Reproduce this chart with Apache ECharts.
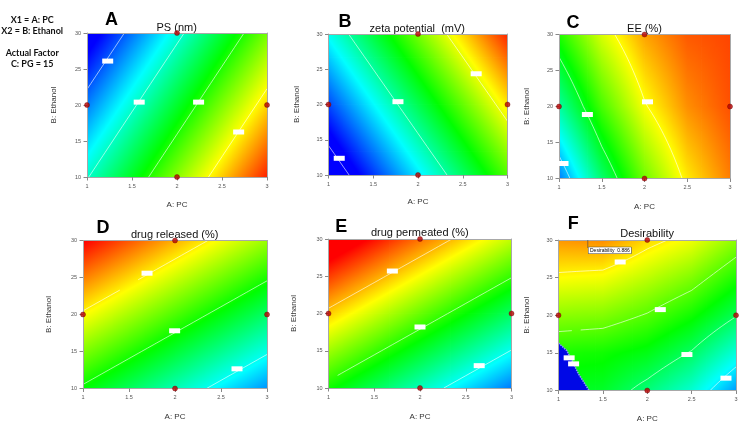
<!DOCTYPE html>
<html><head><meta charset="utf-8">
<script src="https://cdn.jsdelivr.net/npm/echarts@6/dist/echarts.min.js"></script>
<style>html,body{margin:0;padding:0;background:#fff}#c{width:753px;height:424px}</style>
</head><body><div id="c"></div>
<script>
// ================= DATA =================
const pcTicks = [1, 1.5, 2, 2.5, 3];          // A: PC
const ethanolTicks = [10, 15, 20, 25, 30];    // B: Ethanol
const designPoints = [[2, 30], [1, 20], [2, 10], [3, 20]];
const factorNotes = ['X1 = A: PC', 'X2 = B: Ethanol', 'Actual Factor', 'C: PG = 15'];

// A: PS (nm) — response grid (rows: Ethanol 10,20,30 ; cols: PC 1,2,3)
const psPC = [1, 2, 3];
const psEth = [10, 20, 30];
const psGrid = [[1.00, 2.00, 3.00], [0.47, 1.47, 2.47], [-0.06, 0.94, 1.94]];
const psLevels = [0.355, 1.02, 1.685, 2.35];
const psRange = [0.1, 3.1];
const psLabelPos = [[1.23, 26.1], [1.58, 20.4], [2.24, 20.4], [2.685, 16.25]];

// B: zeta potential (mV)
const zpPC = [1, 2, 3];
const zpEth = [10, 20, 30];
const zpGrid = [[1.00, 2.00, 3.00], [1.55, 2.55, 3.55], [2.10, 3.10, 4.10]];
const zpLevels = [1.23, 2.324, 3.42];
const zpRange = [1.35, 4.2];
const zpLabelPos = [[1.12, 12.37], [1.776, 20.4], [2.65, 24.36]];

// C: EE (%)
const eePC = [1, 1.5, 2, 2.5, 3];
const eeEth = [10, 20, 30];
const eeGrid = [[0.75, 1.72, 2.49, 3.07, 3.45], [1.54, 2.35, 2.97, 3.39, 3.61], [2.21, 2.86, 3.32, 3.58, 3.65]];
const eeLevels = [1, 2, 3];
const eeRange = [0.32, 3.89];
const eeLabelPos = [[1.047, 12.08], [1.332, 18.89], [2.035, 20.65]];

// D: drug released (%)
const drPC = [1, 2, 3];
const drEth = [10, 20, 30];
const drGrid = [[10, 3, -4], [20, 13, 6], [30, 23, 16]];
const drLevels = [0.6, 10.55, 20.5];
const drRange = [-9.8, 29.8];
const drLabelPos = [[1.696, 25.58], [1.996, 17.8], [2.674, 12.66]];

// E: drug permeated (%)
const dpPC = [1, 2, 3];
const dpEth = [10, 20, 30];
const dpGrid = [[10, 3.1, -3.8], [20, 13.1, 6.2], [30, 23.1, 16.2]];
const dpLevels = [1.3, 11.0, 20.7];
const dpRange = [-8, 27];
const dpLabelPos = [[1.698, 25.7], [2.0, 18.19], [2.647, 13.0]];

// F: Desirability
const dePC = [1, 1.5, 2, 2.5, 3];
const deEth = [10, 15, 20, 25, 30];
const deGrid = [
  [0.48, 0.47, 0.39, 0.30, 0.156],
  [0.535, 0.525, 0.49, 0.413, 0.29],
  [0.65, 0.64, 0.594, 0.526, 0.425],
  [0.766, 0.755, 0.70, 0.638, 0.538],
  [0.87, 0.88, 0.805, 0.75, 0.652]
];
const deLevels = [0.24, 0.42, 0.60, 0.78];
const deRange = [0, 1.02];
const deLabelPos = [[1.695, 27.08], [2.147, 20.75], [2.447, 14.78], [2.887, 11.64], [1.12, 14.34], [1.17, 13.54]];
const deZeroRegion = [[1, 10], [1, 16.3], [1.094, 15.3], [1.15, 14.0], [1.226, 12.2], [1.345, 10]];
const optimumPoint = [1.33, 30];
const optimumValue = 0.886;

// ================= RENDERING =================
const STOPS = [
  {t: 0, c: [0, 0, 255]}, {t: 0.25, c: [0, 255, 255]}, {t: 0.5, c: [0, 255, 0]},
  {t: 0.75, c: [255, 255, 0]}, {t: 1, c: [255, 0, 0]}
];
function colorAt(t) {
  t = Math.max(0, Math.min(1, t));
  for (let k = 1; k < STOPS.length; k++) {
    if (t <= STOPS[k].t) {
      const a = STOPS[k - 1], b = STOPS[k], f = (t - a.t) / (b.t - a.t);
      return 'rgb(' + a.c.map((v, m) => Math.round(v + (b.c[m] - v) * f)).join(',') + ')';
    }
  }
  return 'rgb(255,0,0)';
}

const panels = [
  {letter: 'A', title: 'PS (nm)', pc: psPC, eth: psEth, z: psGrid, levels: psLevels, range: psRange, labels: psLabelPos,
   grid: {left: 87, top: 33, width: 180, height: 144}, yGap: 29, xGap: 24, letterPos: [111.5, 19.7], titlePos: [176.7, 27.5]},
  {letter: 'B', title: 'zeta potential  (mV)', pc: zpPC, eth: zpEth, z: zpGrid, levels: zpLevels, range: zpRange, labels: zpLabelPos,
   grid: {left: 328.5, top: 34, width: 179, height: 141}, yGap: 27.5, xGap: 23, letterPos: [345, 21.7], titlePos: [417.3, 28.5]},
  {letter: 'C', title: 'EE (%)', pc: eePC, eth: eeEth, z: eeGrid, levels: eeLevels, range: eeRange, labels: eeLabelPos,
   grid: {left: 559, top: 34.5, width: 171, height: 144}, yGap: 28, xGap: 24.5, letterPos: [573, 22.7], titlePos: [644.5, 28.8]},
  {letter: 'D', title: 'drug released (%)', pc: drPC, eth: drEth, z: drGrid, levels: drLevels, range: drRange, labels: drLabelPos,
   grid: {left: 83, top: 240.5, width: 184, height: 148}, yGap: 30, xGap: 24.5, letterPos: [103, 228.3], titlePos: [174.7, 235]},
  {letter: 'E', title: 'drug permeated (%)', pc: dpPC, eth: dpEth, z: dpGrid, levels: dpLevels, range: dpRange, labels: dpLabelPos,
   grid: {left: 328.5, top: 239, width: 183, height: 149}, yGap: 30.5, xGap: 25, letterPos: [341.3, 226.7], titlePos: [419.8, 232.8]},
  {letter: 'F', title: 'Desirability', pc: dePC, eth: deEth, z: deGrid, levels: deLevels, range: deRange, labels: deLabelPos,
   grid: {left: 558.5, top: 240, width: 177.5, height: 150.5}, yGap: 27.5, xGap: 24.5, letterPos: [573.3, 224.5], titlePos: [647.2, 234.2]}
];

function cellData(p) {
  const d = [];
  for (let j = 0; j < p.eth.length - 1; j++)
    for (let i = 0; i < p.pc.length - 1; i++) d.push([p.pc[i], p.eth[j], i, j]);
  return d;
}

function cellGeom(p, api) {
  const i = api.value(2), j = api.value(3);
  const P00 = api.coord([p.pc[i], p.eth[j]]), P11 = api.coord([p.pc[i + 1], p.eth[j + 1]]);
  const z00 = p.z[j][i], z10 = p.z[j][i + 1], z01 = p.z[j + 1][i], z11 = p.z[j + 1][i + 1];
  return {
    val: (s, t) => z00 * (1 - s) * (1 - t) + z10 * s * (1 - t) + z01 * (1 - s) * t + z11 * s * t,
    px: s => P00[0] + (P11[0] - P00[0]) * s,
    py: t => P00[1] + (P11[1] - P00[1]) * t
  };
}

function gradFill(pts, vals, p) {
  const norm = v => (v - p.range[0]) / (p.range[1] - p.range[0]);
  const w = pts[1][0] - pts[0][0], h = pts[3][1] - pts[0][1];
  const gx = ((vals[1] - vals[0]) + (vals[2] - vals[3])) / 2 / w;
  const gy = ((vals[3] - vals[0]) + (vals[2] - vals[1])) / 2 / h;
  const cx = (pts[0][0] + pts[2][0]) / 2, cy = (pts[0][1] + pts[2][1]) / 2;
  const vc = (vals[0] + vals[1] + vals[2] + vals[3]) / 4;
  const g = Math.hypot(gx, gy);
  if (g < 1e-12) return colorAt(norm(vc));
  const dx = gx / g, dy = gy / g;
  let sMin = Infinity, sMax = -Infinity;
  pts.forEach(q => { const s = (q[0] - cx) * dx + (q[1] - cy) * dy; sMin = Math.min(sMin, s); sMax = Math.max(sMax, s); });
  const tA = norm(vc + g * sMin), tB = norm(vc + g * sMax);
  const stops = [{offset: 0, color: colorAt(tA)}];
  STOPS.forEach(st => { if (st.t > tA && st.t < tB) stops.push({offset: (st.t - tA) / (tB - tA), color: colorAt(st.t)}); });
  stops.push({offset: 1, color: colorAt(tB)});
  return {type: 'linear', x: cx + dx * sMin, y: cy + dy * sMin, x2: cx + dx * sMax, y2: cy + dy * sMax, colorStops: stops, global: true};
}

function fieldRender(p) {
  const n = 6;
  return function (params, api) {
    const G = cellGeom(p, api), children = [];
    for (let si = 0; si < n; si++) for (let sj = 0; sj < n; sj++) {
      const s0 = si / n, s1 = (si + 1) / n, t0 = sj / n, t1 = (sj + 1) / n;
      const pts = [[G.px(s0), G.py(t0)], [G.px(s1), G.py(t0)], [G.px(s1), G.py(t1)], [G.px(s0), G.py(t1)]];
      const vals = [G.val(s0, t0), G.val(s1, t0), G.val(s1, t1), G.val(s0, t1)];
      const x = Math.min(pts[0][0], pts[1][0]), y = Math.min(pts[0][1], pts[3][1]);
      children.push({type: 'rect', shape: {x: x - 0.4, y: y - 0.4, width: Math.abs(pts[1][0] - pts[0][0]) + 0.8, height: Math.abs(pts[3][1] - pts[0][1]) + 0.8},
        style: {fill: gradFill(pts, vals, p)}});
    }
    return {type: 'group', children};
  };
}

function contourRender(p) {
  const n = 10;
  return function (params, api) {
    const G = cellGeom(p, api), children = [];
    for (let si = 0; si < n; si++) for (let sj = 0; sj < n; sj++) {
      const s0 = si / n, s1 = (si + 1) / n, t0 = sj / n, t1 = (sj + 1) / n;
      const cs = [[s0, t0], [s1, t0], [s1, t1], [s0, t1]];
      const vs = cs.map(c => G.val(c[0], c[1]));
      p.levels.forEach(L => {
        const hits = [];
        for (let e = 0; e < 4; e++) {
          const a = e, b = (e + 1) % 4;
          if ((vs[a] - L) * (vs[b] - L) < 0) {
            const f = (L - vs[a]) / (vs[b] - vs[a]);
            const s = cs[a][0] + (cs[b][0] - cs[a][0]) * f, t = cs[a][1] + (cs[b][1] - cs[a][1]) * f;
            hits.push([G.px(s), G.py(t)]);
          }
        }
        for (let h = 0; h + 1 < hits.length; h += 2) {
          children.push({type: 'line', shape: {x1: hits[h][0], y1: hits[h][1], x2: hits[h + 1][0], y2: hits[h + 1][1]},
            style: {stroke: 'rgba(255,255,255,0.75)', lineWidth: 0.8}});
        }
      });
    }
    return {type: 'group', children};
  };
}

const FONT = 'Liberation Sans, Arial, sans-serif';
const grids = [], xAxes = [], yAxes = [], series = [], texts = [];
const axisLineStyle = {show: true, onZero: false, lineStyle: {color: '#a8a8a8', width: 1}};

panels.forEach((p, k) => {
  grids.push(Object.assign({containLabel: false}, p.grid));
  xAxes.push({gridIndex: k, type: 'value', position: 'bottom', min: pcTicks[0], max: pcTicks[pcTicks.length - 1], interval: pcTicks[1] - pcTicks[0],
    name: 'A: PC', nameLocation: 'middle', nameGap: p.xGap, nameTextStyle: {fontSize: 8, color: '#333', fontFamily: FONT},
    axisLine: axisLineStyle, axisTick: {show: true, length: 3.5, lineStyle: {color: '#888'}},
    axisLabel: {fontSize: 5.5, color: '#555', margin: 6, fontFamily: FONT}, splitLine: {show: false}, z: 10});
  xAxes.push({gridIndex: k, type: 'value', position: 'top', min: pcTicks[0], max: pcTicks[pcTicks.length - 1],
    axisLine: axisLineStyle, axisTick: {show: false}, axisLabel: {show: false}, splitLine: {show: false}, z: 10});
  yAxes.push({gridIndex: k, type: 'value', position: 'left', min: ethanolTicks[0], max: ethanolTicks[ethanolTicks.length - 1], interval: ethanolTicks[1] - ethanolTicks[0],
    name: 'B: Ethanol', nameLocation: 'middle', nameGap: p.yGap, nameTextStyle: {fontSize: 8, color: '#333', fontFamily: FONT},
    axisLine: axisLineStyle, axisTick: {show: true, length: 3.5, lineStyle: {color: '#888'}},
    axisLabel: {fontSize: 5.5, color: '#555', margin: 6, fontFamily: FONT}, splitLine: {show: false}, z: 10});
  yAxes.push({gridIndex: k, type: 'value', position: 'right', min: ethanolTicks[0], max: ethanolTicks[ethanolTicks.length - 1],
    axisLine: axisLineStyle, axisTick: {show: false}, axisLabel: {show: false}, splitLine: {show: false}, z: 10});

  const ax = {xAxisIndex: 2 * k, yAxisIndex: 2 * k};
  series.push(Object.assign({type: 'custom', data: cellData(p), renderItem: fieldRender(p), z: 1, clip: true, silent: true}, ax));
  series.push(Object.assign({type: 'custom', data: cellData(p), renderItem: contourRender(p), z: 2, clip: true, silent: true}, ax));
  if (p.letter === 'F') {
    series.push(Object.assign({type: 'custom', data: [deZeroRegion[0]], z: 3, clip: true, silent: true,
      renderItem: (params, api) => {
        const pts = deZeroRegion.map(q => api.coord(q));
        return {type: 'group', children: [
          {type: 'polygon', shape: {points: pts}, style: {fill: '#0008e6'}},
          {type: 'polyline', shape: {points: pts.slice(1)}, style: {stroke: '#8a92ff', lineWidth: 1.6, lineDash: [1.5, 1], fill: null}}
        ]};
      }}, ax));
  }
  series.push(Object.assign({type: 'scatter', data: p.labels, symbol: 'rect', symbolSize: [11, 5],
    itemStyle: {color: '#ffffff', opacity: 1}, z: 11, silent: true, clip: false}, ax));
  series.push(Object.assign({type: 'scatter', data: designPoints, symbol: 'circle', symbolSize: 5,
    itemStyle: {color: '#b80000', borderColor: '#6a0000', borderWidth: 0.5}, z: 12, silent: true, clip: false}, ax));
  if (p.letter === 'F') {
    series.push(Object.assign({type: 'custom', data: [optimumPoint], z: 13, clip: false, silent: true,
      renderItem: (params, api) => {
        const q = api.coord([api.value(0), api.value(1)]);
        return {type: 'group', children: [
          {type: 'line', shape: {x1: q[0], y1: q[1], x2: q[0], y2: q[1] + 8}, style: {stroke: '#444', lineWidth: 0.6}},
          {type: 'text', x: q[0] + 0.7, y: q[1] + 7.3, style: {text: 'Desirability  ' + optimumValue.toFixed(3), font: '5px ' + FONT, fill: '#000',
            backgroundColor: '#fff', borderColor: '#333', borderWidth: 0.5, padding: [0.6, 1.5]}}
        ]};
      }}, ax));
  }
  texts.push({type: 'text', x: p.letterPos[0], y: p.letterPos[1], style: {text: p.letter, font: 'bold 18px ' + FONT, fill: '#000',
    textAlign: 'center', textVerticalAlign: 'middle', align: 'center', verticalAlign: 'middle'}});
  texts.push({type: 'text', x: p.titlePos[0], y: p.titlePos[1], style: {text: p.title, font: '11px ' + FONT, fill: '#111',
    textAlign: 'center', textVerticalAlign: 'middle', align: 'center', verticalAlign: 'middle'}});
});

const notePos = [19.7, 31.2, 53.3, 64.3];
factorNotes.forEach((t, i) => texts.push({type: 'text', x: 32.2, y: notePos[i], style: {text: t, font: 'bold 9px Lato, ' + FONT, fill: '#111',
  textAlign: 'center', textVerticalAlign: 'middle', align: 'center', verticalAlign: 'middle'}}));

const chart = echarts.init(document.getElementById('c'), null, {renderer: 'canvas'});
chart.setOption({
  animation: false,
  backgroundColor: '#ffffff',
  grid: grids, xAxis: xAxes, yAxis: yAxes, series: series,
  graphic: {elements: texts}
});
</script></body></html>
